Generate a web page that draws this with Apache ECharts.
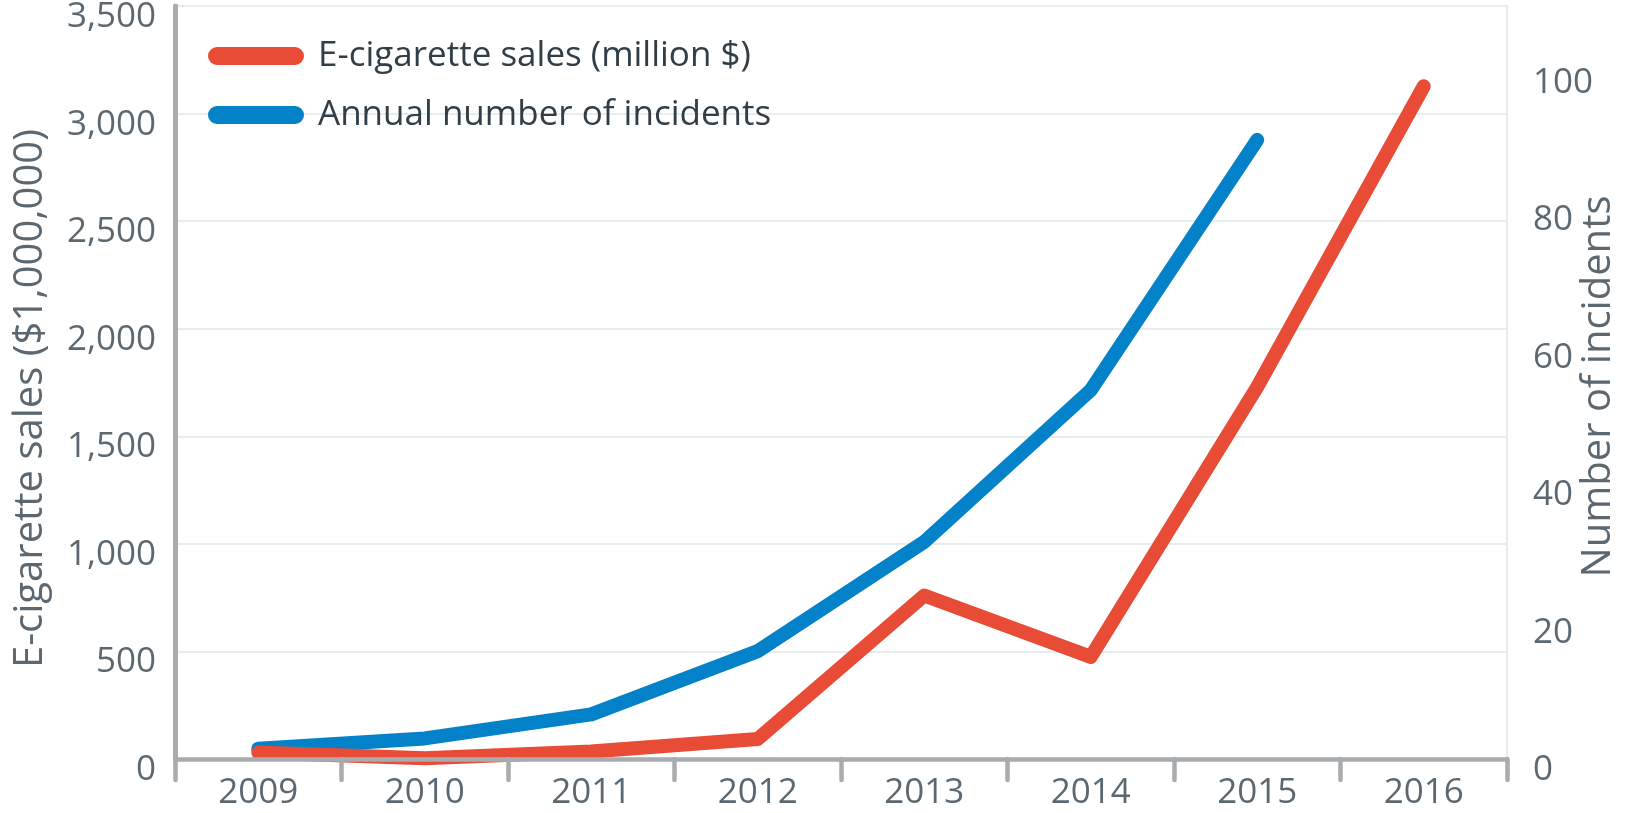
<!DOCTYPE html>
<html>
<head>
<meta charset="utf-8">
<title>E-cigarette sales and incidents</title>
<script src="https://cdn.jsdelivr.net/npm/echarts@6/dist/echarts.min.js"></script>
<style>
  html, body { margin: 0; padding: 0; background: #fff; }
  #chart { width: 1635px; height: 813px; }
</style>
</head>
<body>
<div id="chart"></div>
<script>
// data
const years = ['2009', '2010', '2011', '2012', '2013', '2014', '2015', '2016']
const salesMillion = [30, 3, 35, 93, 760, 475, 1730, 3127]
const incidents = [1.5, 3, 6.5, 15.7, 31.6, 53.7, 90.1, null]

const salesTicks = { min: 0, max: 3500, interval: 500 }
const incidentTicks = { min: 0, max: 109.6, interval: 20 }

const RED = '#e84b36'
const BLUE = '#0381c9'
const AXIS_GREY = '#a8acaf'
const GRID_LINE = '#dfe6ea'
const LABEL = '#5c6871'
const FONT = '"Open Sans", "Noto Sans", sans-serif'

const chart = echarts.init(document.getElementById('chart'))

// rounded bar used as legend marker
const pill = 'path://M9,0 L87,0 A9,9 0 0 1 87,18 L9,18 A9,9 0 0 1 9,0 Z'

// value labels sit a little below their grid line, as in the original
const yLabel = {
  fontFamily: FONT,
  fontSize: 35,
  color: LABEL,
  verticalAlign: 'top',
  lineHeight: 22
}

const option = {
  animation: false,
  textStyle: { fontFamily: FONT },
  grid: { left: 175, right: 128, top: 6, bottom: 54, outerBoundsMode: 'none', containLabel: false },
  legend: {
    orient: 'vertical',
    left: 203,
    top: 31,
    itemWidth: 96,
    itemHeight: 18,
    itemGap: 19,
    icon: pill,
    textStyle: {
      fontFamily: FONT,
      fontSize: 35,
      lineHeight: 40,
      color: '#323e47',
      padding: [0, 0, 0, 9]
    },
    data: [
      { name: 'E-cigarette sales (million $)', itemStyle: { color: RED } },
      { name: 'Annual number of incidents', itemStyle: { color: BLUE } }
    ]
  },
  xAxis: {
    type: 'category',
    data: years,
    boundaryGap: true,
    z: 5,
    axisLine: { lineStyle: { color: AXIS_GREY, width: 4.5 } },
    axisTick: { show: true, length: 21, lineStyle: { color: AXIS_GREY, width: 4.5, cap: 'round' } },
    axisLabel: { fontFamily: FONT, fontSize: 35, color: LABEL, margin: 17 },
    splitLine: { show: false }
  },
  yAxis: [
    {
      type: 'value',
      position: 'left',
      min: salesTicks.min,
      max: salesTicks.max,
      interval: salesTicks.interval,
      name: 'E-cigarette sales ($1,000,000)',
      nameLocation: 'middle',
      nameRotate: 90,
      nameGap: 124,
      nameMoveOverlap: false,
      nameTextStyle: { fontFamily: FONT, fontSize: 40, color: LABEL, padding: [0, 32, 0, 0] },
      axisLine: { show: true, lineStyle: { color: AXIS_GREY, width: 5 } },
      axisTick: { show: false },
      axisLabel: Object.assign({}, yLabel, {
        margin: 19,
        formatter: v => v.toLocaleString('en-US')
      }),
      splitLine: { show: true, lineStyle: { color: GRID_LINE, width: 1.5 } }
    },
    {
      type: 'value',
      position: 'right',
      min: incidentTicks.min,
      max: incidentTicks.max,
      interval: incidentTicks.interval,
      name: 'Number of incidents',
      nameLocation: 'middle',
      nameRotate: 90,
      nameGap: 72,
      nameMoveOverlap: false,
      nameTextStyle: { fontFamily: FONT, fontSize: 40, color: LABEL, padding: [0, 8, 0, 0] },
      axisLine: { show: true, lineStyle: { color: GRID_LINE, width: 1.5 } },
      axisTick: { show: false },
      axisLabel: Object.assign({}, yLabel, {
        margin: 26,
        showMaxLabel: false
      }),
      splitLine: { show: false }
    }
  ],
  series: [
    {
      name: 'E-cigarette sales (million $)',
      type: 'line',
      yAxisIndex: 0,
      data: salesMillion,
      z: 3,
      showSymbol: false,
      symbol: 'none',
      lineStyle: { color: RED, width: 14, cap: 'round', join: 'round' },
      itemStyle: { color: RED }
    },
    {
      name: 'Annual number of incidents',
      type: 'line',
      yAxisIndex: 1,
      data: incidents,
      z: 2,
      showSymbol: false,
      symbol: 'none',
      lineStyle: { color: BLUE, width: 14, cap: 'round', join: 'round' },
      itemStyle: { color: BLUE }
    }
  ]
}

chart.setOption(option)
</script>
</body>
</html>
